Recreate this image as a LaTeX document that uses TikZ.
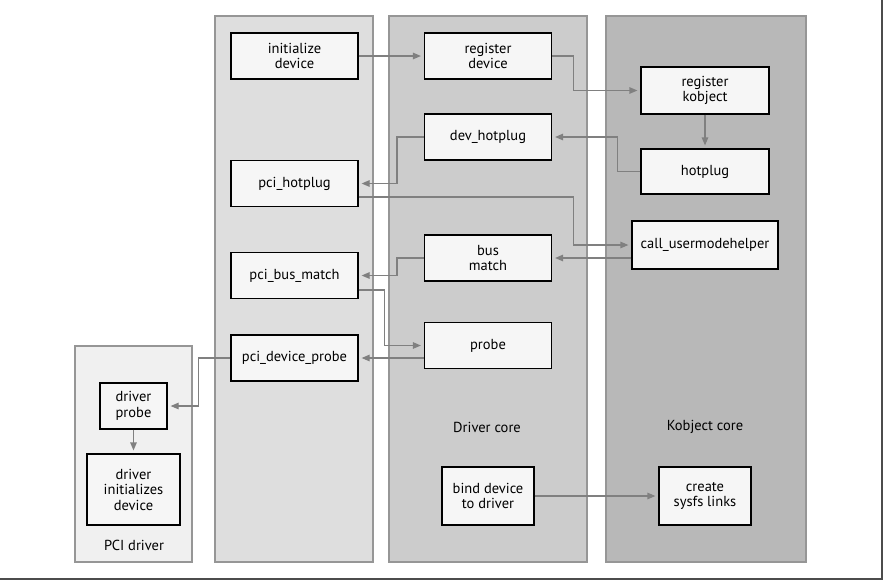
\documentclass[tikz,border=0pt]{standalone}
\usepackage{fontspec}
\setmainfont{PT Sans}
\usetikzlibrary{arrows.meta}

\begin{document}
\begin{tikzpicture}[x=1pt, y=-1pt,
    font=\fontsize{14.5}{15.5}\selectfont,
    fn/.style={draw=black, fill=boxfill, line width=1.2pt, align=center, inner sep=0pt, minimum width=127pt, minimum height=46pt},
    flow/.style={draw=flowgray, line width=1.2pt, shorten >=3pt, -{Triangle[length=8pt, width=6.5pt]}}]
    % Define colors
    \definecolor{boxfill}{RGB}{246, 246, 246}
    \definecolor{flowgray}{RGB}{128, 128, 128}
    \definecolor{lanegray}{RGB}{150, 150, 150}
    \definecolor{devicelane}{RGB}{222, 222, 222}
    \definecolor{corelane}{RGB}{204, 204, 204}
    \definecolor{kobjlane}{RGB}{184, 184, 184}
    \definecolor{driverlane}{RGB}{240, 240, 240}
    \useasboundingbox (0,0) rectangle (885,581);

    % Frame
    \draw[line width=1.5pt, black!70] (0,579) -- (882,579) -- (882,0);

    % Lanes
    \filldraw[fill=devicelane, draw=lanegray, line width=1.2pt] (215,16) rectangle (373,562);
    \filldraw[fill=corelane, draw=lanegray, line width=1.2pt] (389,16) rectangle (587,562);
    \filldraw[fill=kobjlane, draw=lanegray, line width=1.2pt] (606,16) rectangle (806,562);
    \filldraw[fill=driverlane, draw=lanegray, line width=1.2pt] (75,346) rectangle (192,562);

    % Lane labels
    \node (corelbl) at (487,427) {Driver core};
    \node (kobjlbl) at (705,427) {Kobject core};
    \node (drvlbl) at (134,545) {PCI driver};

    % PCI device side
    \node[fn] (initdev) at (294.5,56) {initialize\\device};
    \node[fn] (pcihot) at (294.5,183.5) {pci\_hotplug};
    \node[fn] (pcibus) at (294.5,275.5) {pci\_bus\_match};
    \node[fn] (pcidev) at (294.5,358) {pci\_device\_probe};

    % Driver core
    \node[fn] (regdev) at (488,56) {register\\device};
    \node[fn] (devhot) at (488,137) {dev\_hotplug};
    \node[fn] (busmatch) at (488,258) {bus\\match};
    \node[fn] (probe) at (488,345.5) {probe};
    \node[fn, minimum width=92pt, minimum height=58pt] (bind) at (488,496) {bind device\\to driver};

    % Kobject core
    \node[fn, minimum width=128pt, minimum height=47pt] (regkobj) at (705,90.5) {register\\kobject};
    \node[fn, minimum width=128pt, minimum height=45pt] (hotplug) at (705,171.5) {hotplug};
    \node[fn, minimum width=146pt, minimum height=48pt] (callum) at (705,245) {call\_usermodehelper};
    \node[fn, minimum width=92pt, minimum height=58pt] (sysfs) at (705,496) {create\\sysfs links};

    % PCI driver
    \node[fn, minimum width=67pt, minimum height=46pt] (drvprobe) at (133.5,406) {driver\\probe};
    \node[fn, minimum width=93pt, minimum height=71pt] (drvinit) at (133.5,489.5) {driver\\initializes\\device};

    % Arrows
    \draw[flow] (initdev) -- (regdev);
    \draw[flow] (regdev.east) -- ++(21,0) |- (regkobj.west);
    \draw[flow] (regkobj) -- (hotplug);
    \draw[flow] (hotplug.west) -- ++(-23,0) |- (devhot.east);
    \draw[flow] (devhot.west) -- ++(-27,0) |- (pcihot.east);
    \draw[flow] ([yshift=-13.5pt]pcihot.east) -- ++(215,0) |- (callum.west);
    \draw[flow] (busmatch.east -| callum.west) -- (busmatch.east);
    \draw[flow] (busmatch.west) -- ++(-27,0) |- (pcibus.east);
    \draw[flow] ([yshift=-14.5pt]pcibus.east) -- ++(26,0) |- (probe.west);
    \draw[flow] (pcidev.east -| probe.west) -- (pcidev.east);
    \draw[flow] (pcidev.west) -- ++(-32,0) |- (drvprobe.east);
    \draw[flow] (drvprobe) -- (drvinit);
    \draw[flow] (bind) -- (sysfs);
\end{tikzpicture}
\end{document}
